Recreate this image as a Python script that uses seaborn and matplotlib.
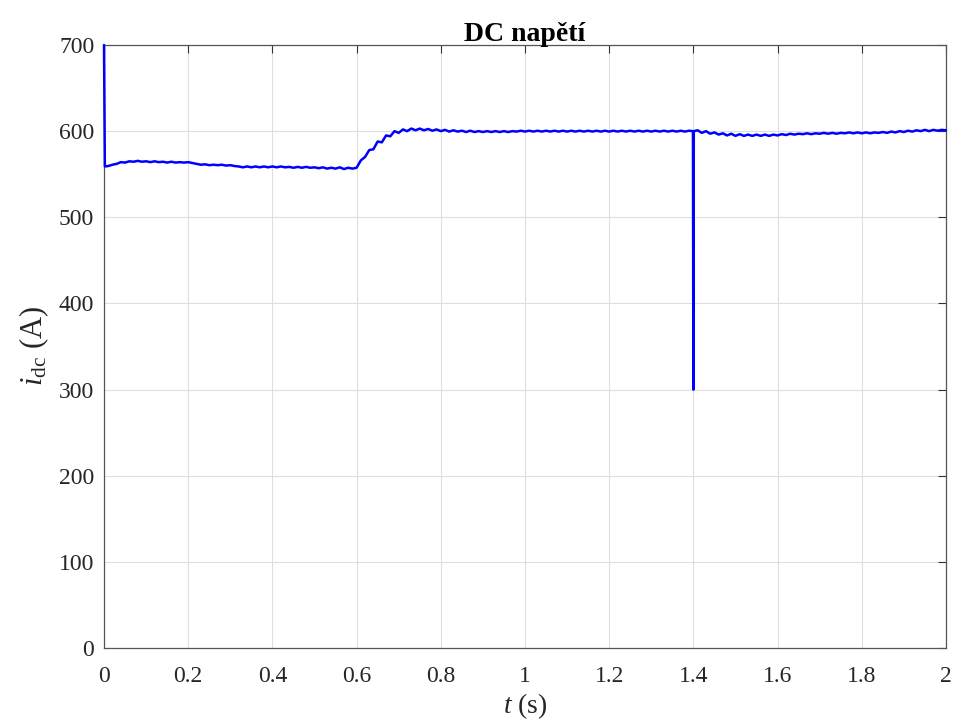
import matplotlib
matplotlib.use("Agg")
import matplotlib.pyplot as plt
import matplotlib.ticker as mticker
import seaborn as sns
import pandas as pd

# ---- data ----
t_start = [0.0, 0.002]
v_start = [700.0, 559.0]

t_seg1 = [round(0.01 * i, 3) for i in range(1, 61)]  # 0.01 .. 0.60
v_seg1 = [559.5, 561, 562, 564, 563.5, 565, 564.5, 565.5, 564.5, 565,
          564, 565, 564, 564.5, 563.5, 564.5, 563.5, 564, 563.5, 564,
          563, 562, 561, 561.5, 560.5, 561, 560.5, 561, 560, 560.5,
          559.5, 559, 558, 559, 558, 559, 558, 559, 558, 559,
          558, 559, 558, 558.5, 557.5, 558.5, 557.5, 558.5, 557.5, 558,
          557, 558, 556.5, 557.5, 556.5, 558, 556, 557.5, 556.5, 557.5]

t_seg2 = [round(0.61 + 0.01 * i, 3) for i in range(79)]  # 0.61 .. 1.39
v_seg2 = [566, 570, 578, 579, 588, 587, 595, 594, 600, 598,
          602, 600, 603, 601, 603, 601, 602.5, 600.5, 602, 600,
          601.5, 599.5, 601, 599.5, 600.5, 599, 600.5, 599, 600, 599,
          600, 599, 600, 599, 600, 599, 600, 599.5, 600.5, 599.5,
          600.5, 599.5, 600.5, 599.5, 600.5, 599.5, 600.5, 599.5, 600.5, 599.5,
          600.5, 599.5, 600.5, 599.5, 600.5, 599.5, 600.5, 599.5, 600.5, 599.5,
          600.5, 599.5, 600.5, 599.5, 600.5, 599.5, 600.5, 599.5, 600.5, 599.5,
          600.5, 599.5, 600.5, 599.5, 600.5, 599.5, 600.5, 599.5, 600.5]

t_spike = [1.399, 1.400, 1.401]
v_spike = [600.0, 300.0, 600.0]

t_seg3 = [round(1.41 + 0.01 * i, 3) for i in range(60)]  # 1.41 .. 2.00
v_seg3 = [601, 598, 600, 597, 598.5, 596, 597.5, 595, 597, 594.5,
          596.5, 594.5, 596, 594.5, 596, 594.5, 596, 594.5, 596, 595,
          596.5, 595.5, 597, 596, 597, 596.5, 597.5, 596.5, 597.5, 597,
          598, 597, 598, 597, 598, 597.5, 598.5, 597.5, 598.5, 597.5,
          598.5, 597.5, 598.5, 598, 599, 598, 599.5, 598.5, 600, 599,
          600.5, 599.5, 601, 600, 601.5, 600, 601.5, 600.5, 601.5, 601]

t_all = t_start + t_seg1 + t_seg2 + t_spike + t_seg3
v_all = v_start + v_seg1 + v_seg2 + v_spike + v_seg3

x_ticks = [0, 0.2, 0.4, 0.6, 0.8, 1.0, 1.2, 1.4, 1.6, 1.8, 2.0]
y_ticks = [0, 100, 200, 300, 400, 500, 600, 700]

df = pd.DataFrame({"t": t_all, "v": v_all})

sns.set_theme(style="white")
plt.rcParams["font.family"] = ["Liberation Serif", "DejaVu Serif"]
plt.rcParams["mathtext.fontset"] = "custom"
plt.rcParams["mathtext.rm"] = "Liberation Serif"
plt.rcParams["mathtext.it"] = "Liberation Serif:italic"

fig = plt.figure(figsize=(9.56, 7.2), dpi=100)
ax = fig.add_axes([0.1088, 0.1, 0.8807, 0.8375])

sns.lineplot(data=df, x="t", y="v", ax=ax, color=(0, 0, 1), linewidth=1.8,
             estimator=None, sort=False)
for ln in ax.lines:
    ln.set_clip_on(False)
    ln.set_zorder(3)

ax.set_xlim(0, 2)
ax.set_ylim(0, 700)
ax.set_xticks(x_ticks)
ax.set_yticks(y_ticks)
ax.xaxis.set_major_formatter(mticker.FuncFormatter(lambda x, p: f"{x:g}"))
ax.grid(True, color="#dedede", linewidth=0.8)
ax.set_axisbelow(True)
for s in ax.spines.values():
    s.set_visible(True)
    s.set_color("#555555")
    s.set_linewidth(0.9)
ax.tick_params(direction="in", length=6, width=0.8, colors="#333333",
               labelsize=17, top=True, right=True)
ax.tick_params(axis="x", pad=13)
ax.tick_params(axis="y", pad=7)
ax.tick_params(axis="both", labelcolor="#262626")

ax.set_title("DC napětí", fontsize=20, fontweight="bold", color="black", pad=3)
ax.set_xlabel(r"$t$ (s)", fontsize=20, color="#262626", labelpad=3)
ax.set_ylabel(r"$i_{\mathrm{dc}}$ (A)", fontsize=22, color="#262626", labelpad=6)

fig.savefig("out.png", dpi=100)
